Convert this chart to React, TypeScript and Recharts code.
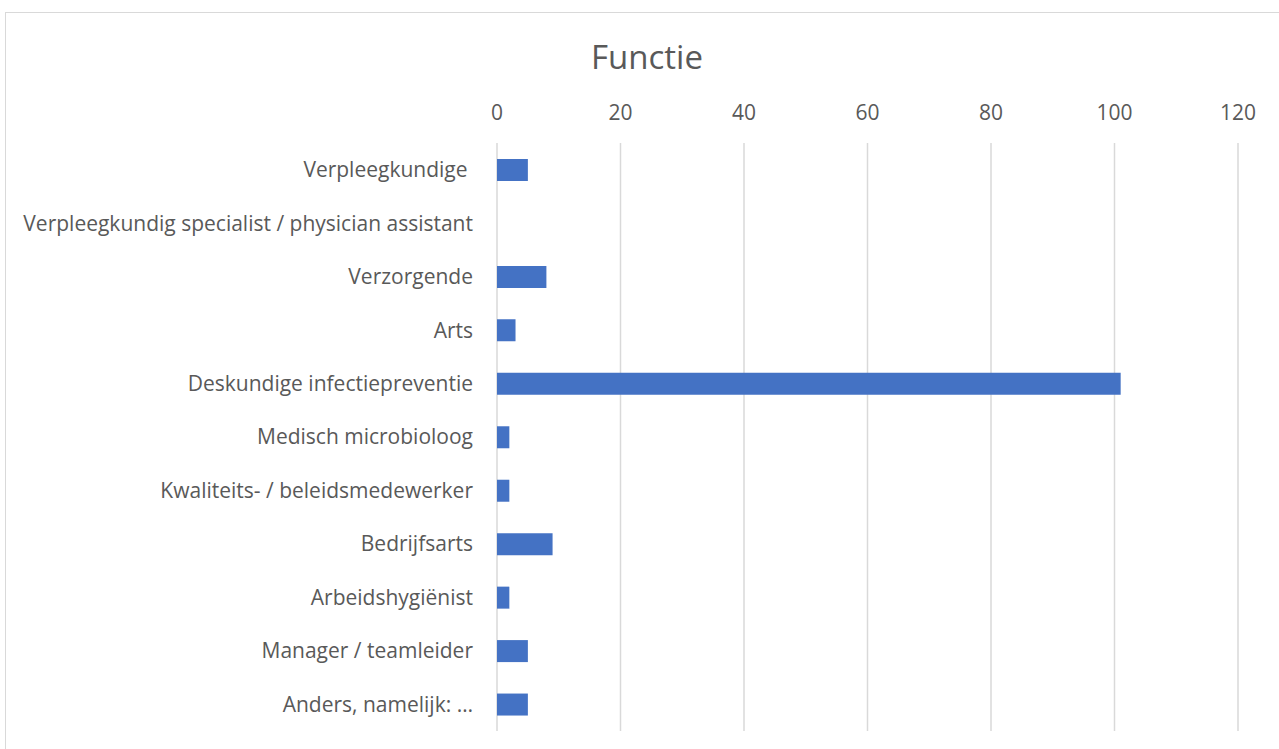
import { Bar, BarChart, CartesianGrid, XAxis, YAxis } from "recharts";

const categories = [
  "Verpleegkundige\u00a0",
  "Verpleegkundig specialist / physician assistant",
  "Verzorgende",
  "Arts",
  "Deskundige infectiepreventie",
  "Medisch microbioloog",
  "Kwaliteits- / beleidsmedewerker",
  "Bedrijfsarts",
  "Arbeidshygiënist",
  "Manager / teamleider",
  "Anders, namelijk: …",
];
const counts = [5, 0, 8, 3, 101, 2, 2, 9, 2, 5, 5];
const xTicks = [0, 20, 40, 60, 80, 100, 120];

const data = categories.map((name, i) => ({ name, value: counts[i] }));

const font = "'Open Sans', Lato, sans-serif";

export default function App() {
  return (
    <div style={{ position: "absolute", left: 0, top: 0, width: 1279, height: 749, overflow: "hidden", background: "#fff", fontFamily: font }}>
      <div
        style={{
          position: "absolute",
          left: 5,
          top: 12,
          width: 1300,
          height: 800,
          border: "1px solid #d9d9d9",
        }}
      />
      <div
        style={{
          position: "absolute",
          left: 5,
          width: 1284,
          top: 34,
          lineHeight: "46px",
          textAlign: "center",
          fontSize: 33,
          color: "#595959",
        }}
      >
        Functie
      </div>
      <div style={{ position: "absolute", left: 0, top: 0 }}>
        <BarChart
          width={1279}
          height={749}
          data={data}
          layout="vertical"
          margin={{ top: 110, right: 41, bottom: 18, left: 17 }}
          barCategoryGap={0}
        >
          <CartesianGrid horizontal={false} stroke="#d9d9d9" strokeWidth={1.5} />
          <XAxis
            type="number"
            orientation="top"
            domain={[0, 120]}
            ticks={xTicks}
            height={33}
            axisLine={false}
            tickLine={false}
            tickSize={0}
            tickMargin={23}
            tick={{ fill: "#595959", fontSize: 21, fontFamily: font }}
          />
          <YAxis
            type="category"
            dataKey="name"
            width={480}
            axisLine={false}
            tickLine={false}
            tickSize={0}
            tickMargin={24}
            interval={0}
            tick={{ fill: "#595959", fontSize: 21, fontFamily: font }}
          />
          <Bar dataKey="value" fill="#4472c4" barSize={22} isAnimationActive={false} />
        </BarChart>
      </div>
    </div>
  );
}
